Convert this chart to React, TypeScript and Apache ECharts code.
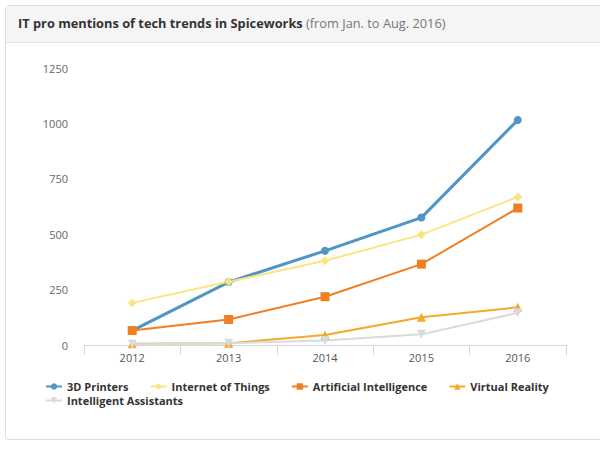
import React, { useEffect, useRef } from "react";
import * as echarts from "echarts";

const years = ["2012", "2013", "2014", "2015", "2016"];
const printers3d = [65, 284, 425, 575, 1015];
const iot = [190, 285, 380, 498, 668];
const ai = [65, 115, 218, 365, 618];
const vr = [6, 8, 45, 125, 170];
const assistants = [3, 8, 20, 48, 145];
const yTicks = [0, 250, 500, 750, 1000, 1250];

const FONT = "'Open Sans', 'DejaVu Sans', sans-serif";

export default function App() {
  const ref = useRef<HTMLDivElement>(null);
  useEffect(() => {
    if (!ref.current) return;
    const chart = echarts.init(ref.current, undefined, { renderer: "svg" });
    const mk = (name: string, data: number[], color: string, symbol: string, size: number, width: number) => ({
      name,
      type: "line",
      data,
      symbol,
      symbolSize: size,
      showSymbol: true,
      lineStyle: { color, width },
      itemStyle: { color },
      emphasis: { disabled: true },
    });
    const legendText = { color: "#333333", fontSize: 11, fontWeight: "bold", fontFamily: FONT };
    chart.setOption({
      animation: false,
      backgroundColor: "#ffffff",
      textStyle: { fontFamily: FONT },
      graphic: [
        {
          type: "rect",
          shape: { x: 5.5, y: 5.5, width: 620, height: 434, r: 3 },
          style: { fill: "#ffffff", stroke: "#dddddd", lineWidth: 1 },
          z: -10,
        },
        {
          type: "rect",
          shape: { x: 6, y: 6, width: 620, height: 36 },
          style: { fill: "#f5f5f5", stroke: "none" },
          z: -9,
        },
        {
          type: "line",
          shape: { x1: 6, y1: 42.5, x2: 600, y2: 42.5 },
          style: { stroke: "#e3e3e3", lineWidth: 1 },
          z: -9,
        },
        {
          type: "text",
          x: 18,
          y: 23,
          style: {
            text: "{b|IT pro mentions of tech trends in Spiceworks} {n|(from Jan. to Aug. 2016)}",
            verticalAlign: "middle",
            rich: {
              b: { fontFamily: FONT, fontSize: 12.8, fontWeight: "bold", fill: "#333333" },
              n: { fontFamily: FONT, fontSize: 12.8, fill: "#777777" },
            },
          },
        },
      ],
      grid: { left: 84, right: 34, top: 68, bottom: 105 },
      xAxis: {
        type: "category",
        data: years,
        boundaryGap: true,
        axisLine: { show: true, lineStyle: { color: "#ccd6eb", width: 1 } },
        axisTick: { show: true, length: 10, lineStyle: { color: "#ccd6eb" } },
        axisLabel: { color: "#555555", fontSize: 11, margin: 7, fontFamily: FONT },
        splitLine: { show: false },
      },
      yAxis: {
        type: "value",
        min: yTicks[0],
        max: yTicks[yTicks.length - 1],
        interval: 250,
        axisLine: { show: false },
        axisTick: { show: false },
        splitLine: { show: false },
        axisLabel: {
          color: "#666666",
          fontSize: 11,
          margin: 16,
          fontFamily: FONT,
          formatter: (v: number) => String(v),
        },
      },
      legend: [
        {
          left: 45,
          top: 381,
          padding: 0,
          itemGap: 21,
          itemWidth: 16,
          itemHeight: 8,
          textStyle: legendText,
          data: ["3D Printers", "Internet of Things", "Artificial Intelligence", "Virtual Reality"],
        },
        {
          left: 45,
          top: 395,
          padding: 0,
          itemGap: 21,
          itemWidth: 16,
          itemHeight: 8,
          textStyle: legendText,
          data: ["Intelligent Assistants"],
        },
      ],
      series: [
        mk("3D Printers", printers3d, "#4f95c6", "circle", 8, 3),
        mk("Internet of Things", iot, "#fce47f", "diamond", 9, 2),
        mk("Artificial Intelligence", ai, "#f07f22", "rect", 9, 2),
        mk("Virtual Reality", vr, "#f6a82a", "triangle", 9, 2),
        mk("Intelligent Assistants", assistants, "#dadada", "path://M0,0 L10,0 L5,10 Z", 9, 2),
      ],
    });
    return () => chart.dispose();
  }, []);
  return <div ref={ref} style={{ position: "fixed", left: 0, top: 0, width: 600, height: 450 }} />;
}
